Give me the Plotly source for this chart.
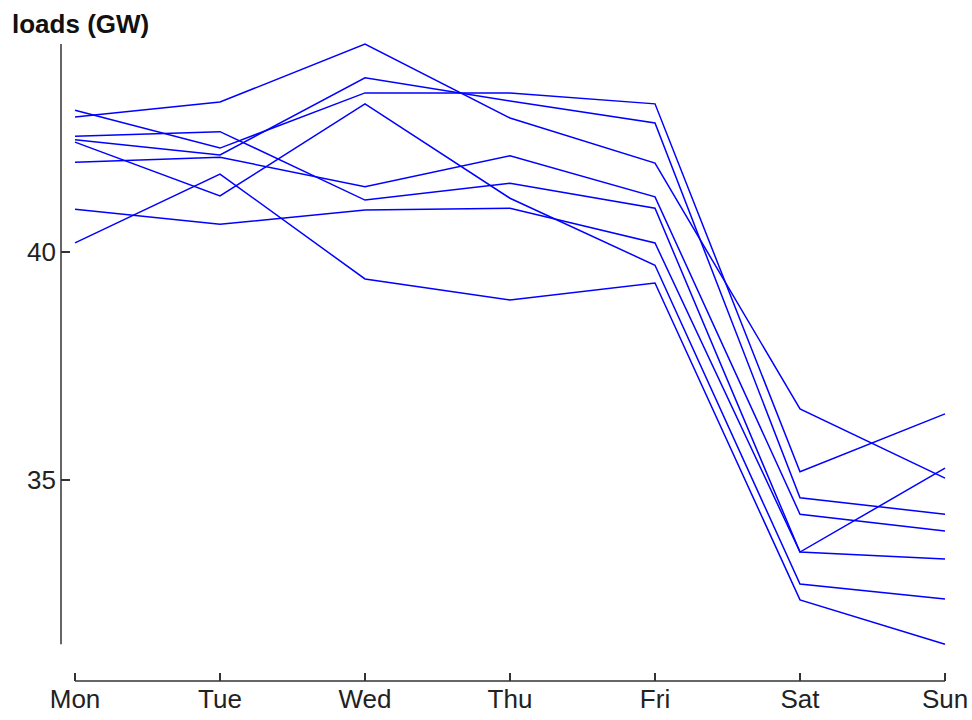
import plotly.graph_objects as go

days = ["Mon", "Tue", "Wed", "Thu", "Fri", "Sat", "Sun"]
week1 = [42.96, 43.29, 44.56, 42.94, 41.95, 36.56, 35.04]
week2 = [42.54, 42.64, 41.14, 41.51, 40.96, 33.42, 33.27]
week3 = [43.11, 42.28, 43.49, 43.49, 43.25, 35.18, 36.45]
week4 = [42.46, 42.13, 43.82, 43.31, 42.83, 34.61, 34.25]
week5 = [41.97, 42.08, 41.43, 42.11, 41.21, 34.25, 33.88]
week6 = [40.20, 41.71, 39.41, 38.95, 39.32, 32.37, 31.40]
week7 = [42.41, 41.23, 43.25, 41.18, 39.71, 32.72, 32.39]
week8 = [40.94, 40.61, 40.92, 40.96, 40.20, 33.42, 35.26]
weeks = [week1, week2, week3, week4, week5, week6, week7, week8]
y_tick_vals = [35, 40]

x_idx = list(range(len(days)))

fig = go.Figure()
for i, w in enumerate(weeks):
    fig.add_trace(go.Scatter(x=x_idx, y=w, mode="lines",
                             line=dict(color="#0000ff", width=1.5),
                             name=f"week {i+1}", showlegend=False))

all_vals = [v for w in weeks for v in w]
ymin, ymax = min(all_vals), max(all_vals)

axis_col = "#333333"
fig.add_shape(type="line", xref="paper", yref="y", x0=0, x1=0, y0=ymin, y1=ymax,
              line=dict(color=axis_col, width=1.5))
fig.add_shape(type="line", xref="x", yref="paper", x0=0, x1=len(days) - 1, y0=0, y1=0,
              line=dict(color=axis_col, width=1.5))

fig.update_layout(
    width=972, height=720,
    margin=dict(l=61, r=17, t=35, b=39),
    paper_bgcolor="white", plot_bgcolor="white",
    font=dict(family="Liberation Sans, Arial, sans-serif", size=26, color="#222222"),
    title=dict(text="<b>loads (GW)</b>", x=12 / 972, xanchor="left",
               y=1 - 24 / 720, yanchor="middle", xref="container", yref="container",
               font=dict(size=26, color="#111111")),
    xaxis=dict(range=[-0.0966, 6.069], tickvals=x_idx, ticktext=days,
               ticks="inside", ticklen=8, tickwidth=1.5, tickcolor=axis_col,
               showline=False, showgrid=False, zeroline=False, automargin=False),
    yaxis=dict(range=[30.592, 44.76], tickvals=y_tick_vals,
               ticks="inside", ticklen=9, tickwidth=1.5, tickcolor=axis_col,
               ticklabelstandoff=4,
               showline=False, showgrid=False, zeroline=False, automargin=False),
)

fig.write_html("out.html",
               config={"displayModeBar": False},
               post_script="document.body.style.margin='0';document.body.style.overflow='hidden';")
